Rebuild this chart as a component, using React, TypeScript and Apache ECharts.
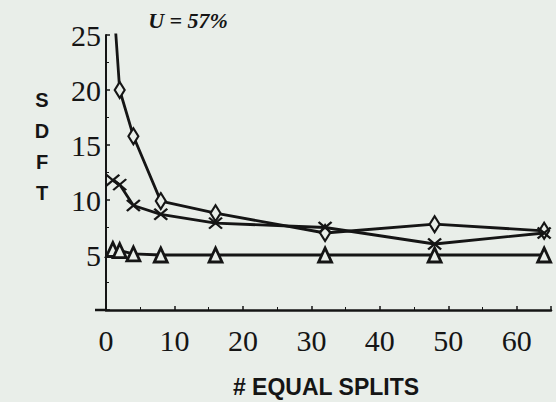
import React, { useEffect, useRef } from "react";
import * as echarts from "echarts";

const BG = "#e9eee9";
const INK = "#151515";

const diamondX = [1, 2, 4, 8, 16, 32, 48, 64];
const diamondY = [29, 20, 15.8, 9.9, 8.8, 7.0, 7.8, 7.2];

const crossX = [1, 2, 4, 8, 16, 32, 48, 64];
const crossY = [11.8, 11.4, 9.5, 8.7, 7.9, 7.5, 6.0, 7.0];

const triX = [1, 2, 4, 8, 16, 32, 48, 64];
const triY = [5.5, 5.4, 5.1, 5.0, 5.0, 5.0, 5.0, 5.0];

const xTicks = [0, 10, 20, 30, 40, 50, 60];
const yTicks = [5, 10, 15, 20, 25];

const zip = (xs: number[], ys: number[]) => xs.map((x, i) => [x, ys[i]]);

export default function App() {
  const ref = useRef<HTMLDivElement>(null);
  useEffect(() => {
    if (!ref.current) return;
    const chart = echarts.init(ref.current, undefined, { renderer: "svg" });
    const serif = "'Liberation Serif', 'DejaVu Serif', serif";
    const sans = "'Liberation Sans', Arial, sans-serif";
    chart.setOption({
      animation: false,
      backgroundColor: BG,
      grid: { left: 106, top: 35, right: 5, bottom: 92, containLabel: false },
      xAxis: {
        type: "value",
        min: 0,
        max: 65,
        interval: 10,
        splitLine: { show: false },
        axisLine: { show: true, lineStyle: { color: INK, width: 2.5 } },
        axisTick: { show: true, inside: true, length: 4, lineStyle: { color: INK, width: 1.5 } },
        minorTick: { show: true, splitNumber: 2, length: 3, lineStyle: { color: INK, width: 1 } },
        axisLabel: {
          show: true,
          showMaxLabel: false,
          color: INK,
          fontFamily: serif,
          fontSize: 30,
          margin: 15,
          formatter: (v: number) => (xTicks.includes(v) ? String(v) : ""),
        },
      },
      yAxis: {
        type: "value",
        min: 0,
        max: 25,
        interval: 5,
        splitLine: { show: false },
        axisLine: { show: true, onZero: false, lineStyle: { color: INK, width: 2 } },
        axisTick: { show: true, inside: true, length: 4, lineStyle: { color: INK, width: 1.5 } },
        minorTick: { show: true, splitNumber: 2, length: 3, lineStyle: { color: INK, width: 1 } },
        axisLabel: {
          show: true,
          color: INK,
          fontFamily: serif,
          fontSize: 30,
          margin: 5,
          formatter: (v: number) => (yTicks.includes(v) ? String(v) : ""),
        },
      },
      series: [
        {
          type: "line",
          name: "diamond",
          data: zip(diamondX, diamondY),
          clip: true,
          symbol: "diamond",
          symbolSize: [10, 16],
          showAllSymbol: true,
          lineStyle: { color: INK, width: 2.8 },
          itemStyle: { color: BG, borderColor: INK, borderWidth: 2.2 },
          z: 3,
        },
        {
          type: "line",
          name: "cross",
          data: zip(crossX, crossY),
          clip: true,
          symbol: "path://M0,0L10,10M10,0L0,10",
          symbolSize: [13, 11],
          showAllSymbol: true,
          lineStyle: { color: INK, width: 2.8 },
          itemStyle: { color: "none", borderColor: INK, borderWidth: 2.2 },
          z: 4,
        },
        {
          type: "line",
          name: "triangle",
          data: zip(triX, triY),
          clip: true,
          symbol: "triangle",
          symbolSize: [13, 14],
          showAllSymbol: true,
          lineStyle: { color: INK, width: 2.8 },
          itemStyle: { color: BG, borderColor: INK, borderWidth: 2.8 },
          z: 3,
        },
      ],
      graphic: [
        {
          type: "line",
          shape: { x1: 95, y1: 310, x2: 106, y2: 310 },
          style: { stroke: INK, lineWidth: 2.5 },
        },
        {
          type: "text",
          style: {
            text: "U = 57%",
            x: 188,
            y: 20,
            align: "center",
            verticalAlign: "middle",
            fontFamily: serif,
            fontStyle: "italic",
            fontWeight: "bold",
            fontSize: 22,
            fill: INK,
          },
        },
        ...["S", "D", "F", "T"].map((ch, i) => ({
          type: "text",
          style: {
            text: ch,
            x: 42,
            y: 100 + i * 31,
            align: "center",
            verticalAlign: "middle",
            fontFamily: sans,
            fontWeight: "bold",
            fontSize: 20,
            fill: INK,
          },
        })),
        {
          type: "text",
          style: {
            text: "# EQUAL SPLITS",
            x: 326,
            y: 387,
            align: "center",
            verticalAlign: "middle",
            fontFamily: sans,
            fontWeight: "bold",
            fontSize: 23,
            fill: INK,
          },
        },
      ],
    });
    return () => chart.dispose();
  }, []);
  return (
    <div
      ref={ref}
      style={{ position: "absolute", left: 0, top: 0, width: 556, height: 402 }}
    />
  );
}
